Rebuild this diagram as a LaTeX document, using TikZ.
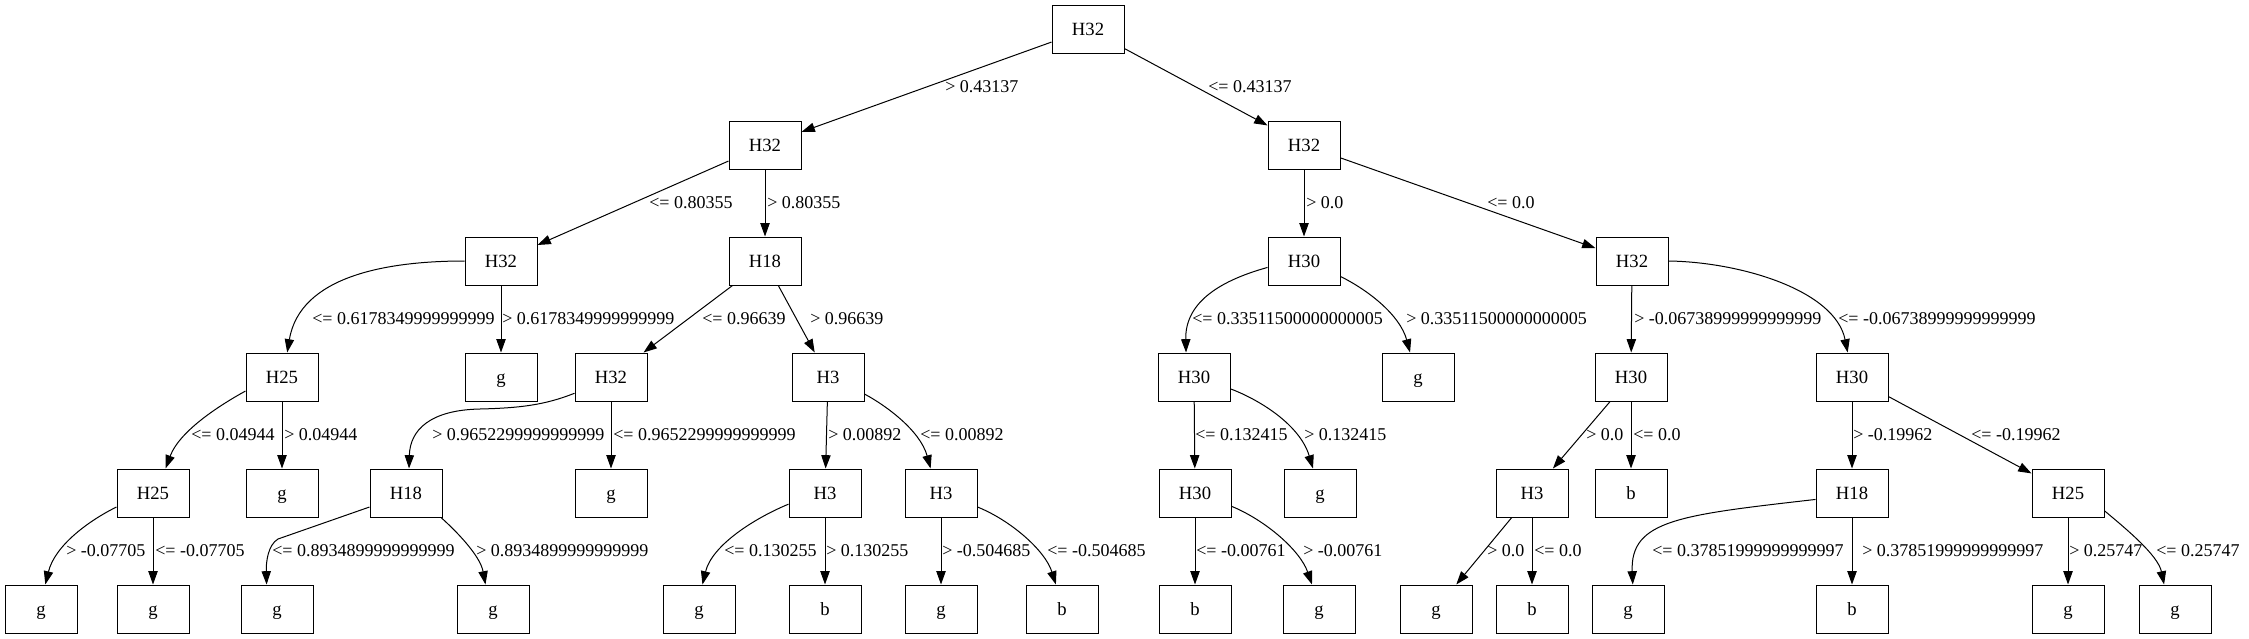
\documentclass[tikz,border=0pt]{standalone}
\usepackage{fontspec}
\setmainfont{Liberation Serif}
\usetikzlibrary{arrows.meta}

\begin{document}
\begin{tikzpicture}[x=0.75pt,y=0.75pt,yscale=-1,xscale=1,
  box/.style={draw, line width=0.75pt, minimum width=54pt, minimum height=36pt, inner sep=0pt, text height=12pt, text depth=3pt, font=\fontsize{14pt}{16pt}\selectfont},
  lbl/.style={anchor=west, inner sep=0pt, text height=9.5pt, text depth=0pt, font=\fontsize{13.5pt}{16pt}\selectfont},
  edge/.style={line width=0.75pt, -{Triangle[length=10pt,width=7pt]}}]
%set diagram size
\useasboundingbox (0,0) rectangle (2249,639);

%Shape: Boxes, row 0 to 2
\node [box] (r) at (1088,29) {H32};
\node [box] (a) at (765,145) {H32};
\node [box] (b) at (1304,145) {H32};
\node [box] (aa) at (501,261) {H32};
\node [box] (ab) at (765,261) {H18};
\node [box] (ba) at (1304,261) {H30};
\node [box] (bb) at (1632,261) {H32};
%Shape: Boxes, row 3
\node [box] (aaa) at (282,377) {H25};
\node [box] (aab) at (501,377) {g};
\node [box] (aba) at (611,377) {H32};
\node [box] (abb) at (828,377) {H3};
\node [box] (baa) at (1194,377) {H30};
\node [box] (bab) at (1418,377) {g};
\node [box] (bba) at (1631,377) {H30};
\node [box] (bbb) at (1852,377) {H30};
%Shape: Boxes, row 4
\node [box] (aaaa) at (153,493) {H25};
\node [box] (aaab) at (282,493) {g};
\node [box] (abaa) at (406,493) {H18};
\node [box] (abab) at (611,493) {g};
\node [box] (abba) at (825,493) {H3};
\node [box] (abbb) at (941,493) {H3};
\node [box] (baaa) at (1195,493) {H30};
\node [box] (baab) at (1320,493) {g};
\node [box] (bbaa) at (1532,493) {H3};
\node [box] (bbab) at (1631,493) {b};
\node [box] (bbba) at (1852,493) {H18};
\node [box] (bbbb) at (2068,493) {H25};
%Shape: Boxes, row 5
\node [box] (aaaa1) at (41,609) {g};
\node [box] (aaaa2) at (153,609) {g};
\node [box] (abaa1) at (277,609) {g};
\node [box] (abaa2) at (493,609) {g};
\node [box] (abba1) at (699,609) {g};
\node [box] (abba2) at (825,609) {b};
\node [box] (abbb1) at (941,609) {g};
\node [box] (abbb2) at (1062,609) {b};
\node [box] (baaa1) at (1195,609) {b};
\node [box] (baaa2) at (1319,609) {g};
\node [box] (bbaa1) at (1436,609) {g};
\node [box] (bbaa2) at (1532,609) {b};
\node [box] (bbba1) at (1628,609) {g};
\node [box] (bbba2) at (1852,609) {b};
\node [box] (bbbb1) at (2068,609) {g};
\node [box] (bbbb2) at (2175,609) {g};

%Straight Lines
\draw [edge] (r) -- (a);
\draw [edge] (r) -- (b);
\draw [edge] (a) -- (aa);
\draw [edge] (a) -- (ab);
\draw [edge] (b) -- (ba);
\draw [edge] (b) -- (bb);
\draw [edge] (aa) -- (aab);
\draw [edge] (ab) -- (aba);
\draw [edge] (ab) -- (abb);
\draw [edge] (bb) -- (bba);
\draw [edge] (aaa) -- (aaab);
\draw [edge] (aba) -- (abab);
\draw [edge] (abb) -- (abba);
\draw [edge] (baa) -- (baaa);
\draw [edge] (bba) -- (bbaa);
\draw [edge] (bba) -- (bbab);
\draw [edge] (bbb) -- (bbba);
\draw [edge] (bbb) -- (bbbb);
\draw [edge] (aaaa) -- (aaaa2);
\draw [edge] (abba) -- (abba2);
\draw [edge] (abbb) -- (abbb1);
\draw [edge] (baaa) -- (baaa1);
\draw [edge] (bbaa) -- (bbaa1);
\draw [edge] (bbaa) -- (bbaa2);
\draw [edge] (bbba) -- (bbba2);
\draw [edge] (bbbb) -- (bbbb1);
%Curve Lines
\draw [edge] (aa.west) .. controls (387,261) and (300,276) .. (aaa.78);
\draw [edge] (ba.190) .. controls (1215,282) and (1185,305) .. (baa.108);
\draw [edge] (ba.337) .. controls (1368,290) and (1400,315) .. (bab.108);
\draw [edge] (bb.east) .. controls (1740,262) and (1835,290) .. (bbb.100);
\draw [edge] (aaa.201) .. controls (222,404) and (180,430) .. (aaaa.63);
\draw [edge] (aba.204) .. controls (545,405) and (520,408) .. (480,409) .. controls (430,410) and (410,430) .. (abaa.83);
\draw [edge] (abb.335) .. controls (885,405) and (920,430) .. (abbb.113);
\draw [edge] (baa.342) .. controls (1260,400) and (1300,425) .. (baab.106);
\draw [edge] (aaaa.201) .. controls (90,520) and (55,545) .. (aaaa1.80);
\draw [edge] (abaa.201) -- (278,539) .. controls (268,545) and (266,562) .. (abaa1.113);
\draw [edge] (abaa.325) .. controls (455,530) and (480,555) .. (abaa2.107);
\draw [edge] (abba.197) .. controls (755,518) and (712,545) .. (abba1.82);
\draw [edge] (abbb.339) .. controls (1010,520) and (1045,550) .. (abbb2.104);
\draw [edge] (baaa.340) .. controls (1265,520) and (1300,550) .. (baaa2.106);
\draw [edge] (bbba.190) .. controls (1680,515) and (1630,520) .. (bbba1.79);
\draw [edge] (bbbb.334) .. controls (2125,528) and (2158,555) .. (bbbb2.114);

% Text Node
\node [lbl] (la) at (945,86) {> 0.43137};
\node [lbl] (lb) at (1208,86) {<= 0.43137};
\node [lbl] (laa) at (649,202) {<= 0.80355};
\node [lbl] (lab) at (767,202) {> 0.80355};
\node [lbl] (lba) at (1306,202) {> 0.0};
\node [lbl] (lbb) at (1487,202) {<= 0.0};
% Text Node
\node [lbl] (laaa) at (312,318) {<= 0.6178349999999999};
\node [lbl] (laab) at (502,318) {> 0.6178349999999999};
\node [lbl] (laba) at (702,318) {<= 0.96639};
\node [lbl] (labb) at (810,318) {> 0.96639};
\node [lbl] (lbaa) at (1192,318) {<= 0.33511500000000005};
\node [lbl] (lbab) at (1406,318) {> 0.33511500000000005};
\node [lbl] (lbba) at (1634,318) {> -0.06738999999999999};
\node [lbl] (lbbb) at (1838,318) {<= -0.06738999999999999};
% Text Node
\node [lbl] (laaaa) at (191,434) {<= 0.04944};
\node [lbl] (laaab) at (284,434) {> 0.04944};
\node [lbl] (labaa) at (432,434) {> 0.9652299999999999};
\node [lbl] (labab) at (613,434) {<= 0.9652299999999999};
\node [lbl] (labba) at (828,434) {> 0.00892};
\node [lbl] (labbb) at (920,434) {<= 0.00892};
\node [lbl] (lbaaa) at (1195,434) {<= 0.132415};
\node [lbl] (lbaab) at (1304,434) {> 0.132415};
\node [lbl] (lbbaa) at (1586,434) {> 0.0};
\node [lbl] (lbbab) at (1633,434) {<= 0.0};
\node [lbl] (lbbba) at (1853,434) {> -0.19962};
\node [lbl] (lbbbb) at (1971,434) {<= -0.19962};
% Text Node
\node [lbl] (laaaa1) at (66,550) {> -0.07705};
\node [lbl] (laaaa2) at (155,550) {<= -0.07705};
\node [lbl] (labaa1) at (272,550) {<= 0.8934899999999999};
\node [lbl] (labaa2) at (476,550) {> 0.8934899999999999};
\node [lbl] (labba1) at (724,550) {<= 0.130255};
\node [lbl] (labba2) at (826,550) {> 0.130255};
\node [lbl] (labbb1) at (942,550) {> -0.504685};
\node [lbl] (labbb2) at (1047,550) {<= -0.504685};
\node [lbl] (lbaaa1) at (1196,550) {<= -0.00761};
\node [lbl] (lbaaa2) at (1303,550) {> -0.00761};
\node [lbl] (lbbaa1) at (1487,550) {> 0.0};
\node [lbl] (lbbaa2) at (1534,550) {<= 0.0};
\node [lbl] (lbbba1) at (1652,550) {<= 0.37851999999999997};
\node [lbl] (lbbba2) at (1862,550) {> 0.37851999999999997};
\node [lbl] (lbbbb1) at (2069,550) {> 0.25747};
\node [lbl] (lbbbb2) at (2156,550) {<= 0.25747};

\end{tikzpicture}
\end{document}
